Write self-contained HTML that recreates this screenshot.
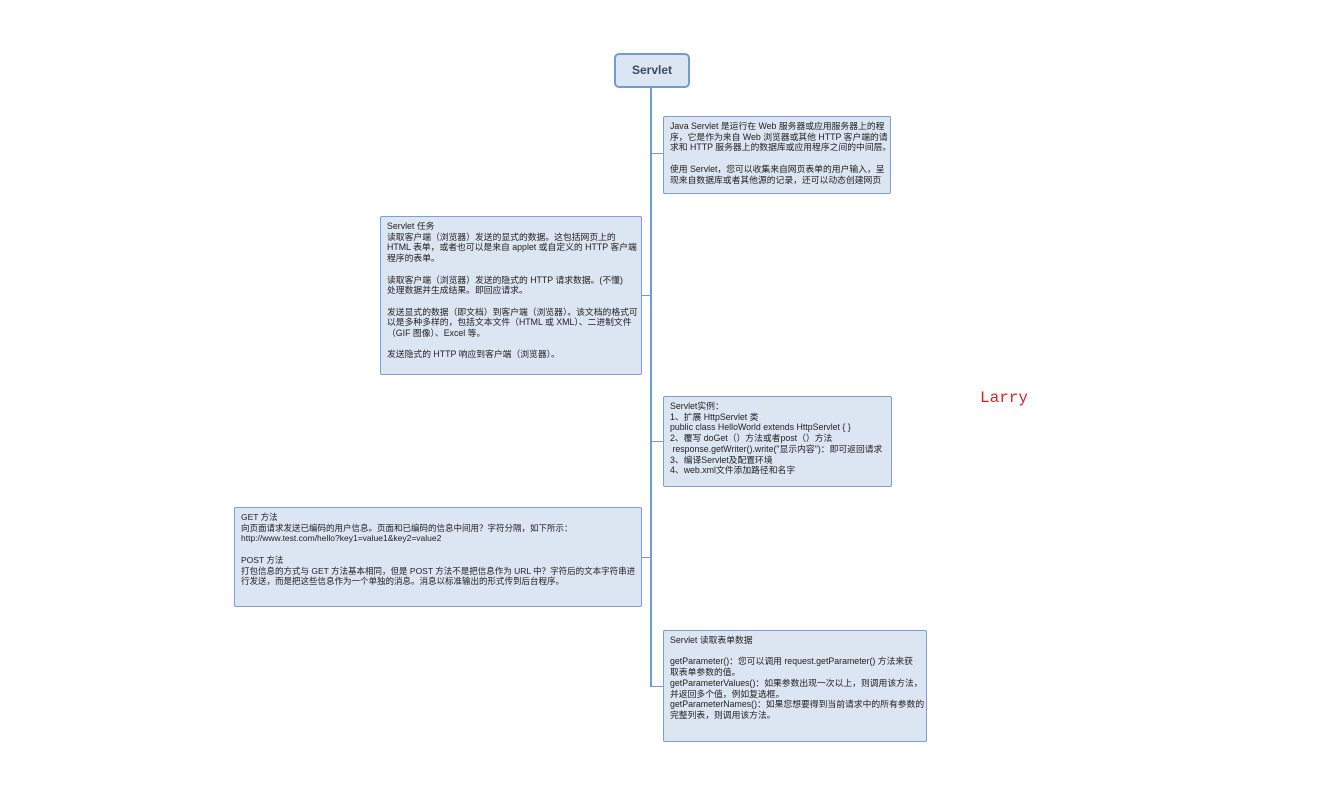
<!DOCTYPE html>
<html><head><meta charset="utf-8"><style>
body{margin:0;width:1338px;height:807px;background:#fff;position:relative;overflow:hidden;font-family:"Liberation Sans","Noto Sans CJK SC",sans-serif;}
.b{position:absolute;box-sizing:border-box;background:#dce5f2;border:1px solid #7aa0d4;border-radius:2px;font-size:8.8px;line-height:10.7px;color:#222;padding:4px 6px;white-space:nowrap;overflow:hidden;}
.l{position:absolute;background:#6f9bd6;}
</style></head><body>
<div class="l" style="left:650px;top:88px;width:2px;height:599px"></div>
<div class="l" style="left:651px;top:153px;width:12px;height:1px"></div>
<div class="l" style="left:641px;top:295px;width:10px;height:1px"></div>
<div class="l" style="left:651px;top:441px;width:12px;height:1px"></div>
<div class="l" style="left:641px;top:557px;width:10px;height:1px"></div>
<div class="l" style="left:651px;top:686px;width:12px;height:1px"></div>
<div style="position:absolute;left:614px;top:53px;width:76px;height:35px;box-sizing:border-box;border:2px solid #6f9bd6;border-radius:5px;background:#dce5f2;font-weight:bold;font-size:12px;color:#3b4a66;text-align:center;line-height:31px">Servlet</div>
<div class="b" style="left:663px;top:116px;width:228px;height:78px">Java Servlet 是运行在 Web 服务器或应用服务器上的程<br>序，它是作为来自 Web 浏览器或其他 HTTP 客户端的请<br>求和 HTTP 服务器上的数据库或应用程序之间的中间层。<br><br>使用 Servlet，您可以收集来自网页表单的用户输入，呈<br>现来自数据库或者其他源的记录，还可以动态创建网页</div>
<div class="b" style="left:380px;top:216px;width:262px;height:159px">Servlet 任务<br>读取客户端（浏览器）发送的显式的数据。这包括网页上的<br>HTML 表单，或者也可以是来自 applet 或自定义的 HTTP 客户端<br>程序的表单。<br><br>读取客户端（浏览器）发送的隐式的 HTTP 请求数据。(不懂)<br>处理数据并生成结果。即回应请求。<br><br>发送显式的数据（即文档）到客户端（浏览器）。该文档的格式可<br>以是多种多样的，包括文本文件（HTML 或 XML）、二进制文件<br>（GIF 图像）、Excel 等。<br><br>发送隐式的 HTTP 响应到客户端（浏览器）。</div>
<div class="b" style="left:663px;top:396px;width:229px;height:91px">Servlet实例：<br>1、扩展 HttpServlet 类<br>public class HelloWorld extends HttpServlet { }<br>2、覆写 doGet（）方法或者post（）方法<br>&nbsp;response.getWriter().write("显示内容")：即可返回请求<br>3、编译Servlet及配置环境<br>4、web.xml文件添加路径和名字</div>
<div class="b" style="left:234px;top:507px;width:408px;height:100px;font-size:8.5px">GET 方法<br>向页面请求发送已编码的用户信息。页面和已编码的信息中间用？字符分隔，如下所示：<br>http://www.test.com/hello?key1=value1&amp;key2=value2<br><br>POST 方法<br>打包信息的方式与 GET 方法基本相同，但是 POST 方法不是把信息作为 URL 中？字符后的文本字符串进<br>行发送，而是把这些信息作为一个单独的消息。消息以标准输出的形式传到后台程序。</div>
<div class="b" style="left:663px;top:630px;width:264px;height:112px">Servlet 读取表单数据<br><br>getParameter()：您可以调用 request.getParameter() 方法来获<br>取表单参数的值。<br>getParameterValues()：如果参数出现一次以上，则调用该方法，<br>并返回多个值，例如复选框。<br>getParameterNames()：如果您想要得到当前请求中的所有参数的<br>完整列表，则调用该方法。</div>
<div style="position:absolute;left:980px;top:389px;font-family:'Liberation Mono',monospace;font-size:16px;color:#d22;">Larry</div>
</body></html>
